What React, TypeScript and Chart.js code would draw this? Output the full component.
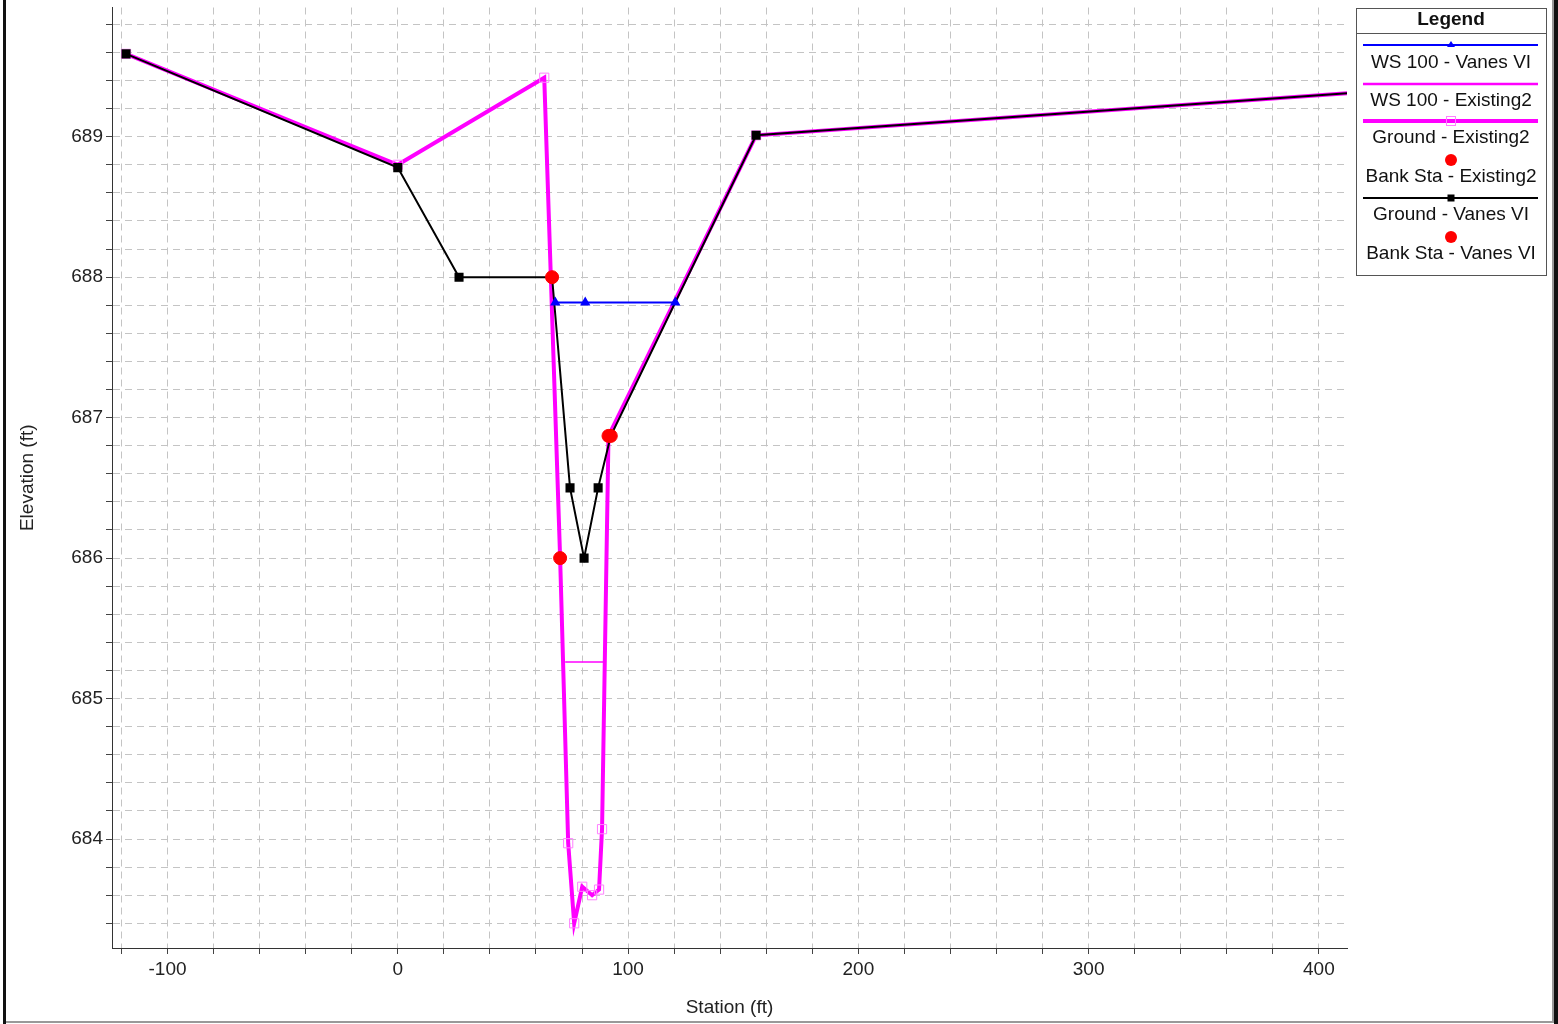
import React, { useEffect, useRef } from "react";
import { Chart, registerables } from "chart.js";

Chart.register(...registerables);

// Ground - Vanes VI
const groundVanesX = [-118, 0, 26.6, 67.0, 74.8, 80.9, 87.0, 92.5, 155.6, 415];
const groundVanesY = [689.59, 688.78, 688.0, 688.0, 686.5, 686.0, 686.5, 686.87, 689.01, 689.313];

// Ground - Existing2
const groundExistX = [-118, 0, 63.6, 70.5, 74.0, 76.6, 80.1, 84.4, 87.4, 88.7, 91.5, 155.6, 415];
const groundExistY = [689.59, 688.8, 689.42, 686.0, 683.97, 683.4, 683.66, 683.6, 683.64, 684.07, 686.87, 689.01, 689.313];

// WS 100 - Vanes VI
const wsVanesX = [68.4, 81.4, 120.5];
const wsVanesY = [687.82, 687.82, 687.82];

// WS 100 - Existing2
const wsExistX = [72.7, 89.2];
const wsExistY = [685.26, 685.26];

// Bank stations
const bankExistX = [70.5, 91.5];
const bankExistY = [686.0, 686.87];
const bankVanesX = [67.0, 92.5];
const bankVanesY = [688.0, 686.87];

const legendLabels = [
  "WS 100 - Vanes VI",
  "WS 100 - Existing2",
  "Ground - Existing2",
  "Bank Sta - Existing2",
  "Ground - Vanes VI",
  "Bank Sta - Vanes VI",
];

const xTitle = "Station (ft)";
const yTitle = "Elevation (ft)";

const pts = (xs: number[], ys: number[]) => xs.map((x, i) => ({ x, y: ys[i] }));

const FONT = "'Liberation Sans', Arial, sans-serif";
const FS = 19;

const legendPlugin = {
  id: "customLegend",
  afterDraw(chart: any) {
    const ctx = chart.ctx as CanvasRenderingContext2D;
    ctx.save();
    // outer frame
    ctx.fillStyle = "#111";
    ctx.fillRect(3, 0, 3, 1024);
    ctx.fillRect(1554, 0, 4, 1024);
    ctx.fillStyle = "#999";
    ctx.fillRect(6, 1021, 1548, 2);
    ctx.fillRect(1552, 0, 2, 1021);

    const L = 1356, T = 8, W = 190, H = 267;
    const cx = L + W / 2;
    ctx.fillStyle = "#fff";
    ctx.fillRect(L, T, W, H);
    ctx.strokeStyle = "#555";
    ctx.lineWidth = 1;
    ctx.strokeRect(L + 0.5, T + 0.5, W, H);
    ctx.beginPath();
    ctx.moveTo(L, 33.5);
    ctx.lineTo(L + W, 33.5);
    ctx.stroke();

    ctx.fillStyle = "#111";
    ctx.textAlign = "center";
    ctx.textBaseline = "middle";
    ctx.font = `bold ${FS}px ${FONT}`;
    ctx.fillText("Legend", cx, 20);

    ctx.font = `${FS}px ${FONT}`;
    const textY = [63, 101, 138, 177, 215, 254];
    legendLabels.forEach((t, i) => ctx.fillText(t, cx, textY[i]));

    const x0 = 1363, x1 = 1538;
    // WS Vanes
    ctx.strokeStyle = "#0000ff";
    ctx.lineWidth = 2;
    ctx.beginPath(); ctx.moveTo(x0, 45); ctx.lineTo(x1, 45); ctx.stroke();
    ctx.fillStyle = "#0000ff";
    ctx.beginPath(); ctx.moveTo(cx, 41); ctx.lineTo(cx + 4, 47); ctx.lineTo(cx - 4, 47); ctx.closePath(); ctx.fill();
    // WS Existing
    ctx.strokeStyle = "#ff00ff";
    ctx.lineWidth = 2.5;
    ctx.beginPath(); ctx.moveTo(x0, 84); ctx.lineTo(x1, 84); ctx.stroke();
    // Ground Existing
    ctx.lineWidth = 4;
    ctx.beginPath(); ctx.moveTo(x0, 121); ctx.lineTo(x1, 121); ctx.stroke();
    ctx.strokeStyle = "#ff80ff";
    ctx.lineWidth = 1;
    ctx.strokeRect(cx - 4.5, 116.5, 9, 9);
    // Bank Existing
    ctx.fillStyle = "#ff0000";
    ctx.beginPath(); ctx.arc(cx, 160, 6, 0, Math.PI * 2); ctx.fill();
    // Ground Vanes
    ctx.strokeStyle = "#000";
    ctx.lineWidth = 2;
    ctx.beginPath(); ctx.moveTo(x0, 198); ctx.lineTo(x1, 198); ctx.stroke();
    ctx.fillStyle = "#000";
    ctx.fillRect(cx - 3.5, 194.5, 7, 7);
    // Bank Vanes
    ctx.fillStyle = "#ff0000";
    ctx.beginPath(); ctx.arc(cx, 237, 6, 0, Math.PI * 2); ctx.fill();
    ctx.restore();
  },
};

export default function App() {
  const ref = useRef<HTMLCanvasElement | null>(null);
  useEffect(() => {
    if (!ref.current) return;
    const chart = new Chart(ref.current, {
      type: "line",
      data: {
        datasets: [
          {
            label: legendLabels[5],
            data: pts(bankVanesX, bankVanesY),
            showLine: false,
            pointStyle: "circle",
            pointRadius: 6.5,
            pointBackgroundColor: "#ff0000",
            pointBorderColor: "#ff0000",
            borderColor: "#ff0000",
          },
          {
            label: legendLabels[3],
            data: pts(bankExistX, bankExistY),
            showLine: false,
            pointStyle: "circle",
            pointRadius: 6.5,
            pointBackgroundColor: "#ff0000",
            pointBorderColor: "#ff0000",
            borderColor: "#ff0000",
          },
          {
            label: legendLabels[0],
            data: pts(wsVanesX, wsVanesY),
            borderColor: "#0000ff",
            borderWidth: 2,
            pointStyle: "triangle",
            pointRadius: 4,
            pointBackgroundColor: "#0000ff",
            pointBorderColor: "#0000ff",
          },
          {
            label: legendLabels[4],
            data: pts(groundVanesX, groundVanesY),
            borderColor: "#000000",
            borderWidth: 2,
            pointStyle: "rect",
            pointRadius: 5,
            pointBackgroundColor: "#000000",
            pointBorderColor: "#000000",
          },
          {
            label: legendLabels[1],
            data: pts(wsExistX, wsExistY),
            borderColor: "#ff00ff",
            borderWidth: 1.5,
            pointRadius: 0,
          },
          {
            label: legendLabels[2],
            data: pts(groundExistX, groundExistY),
            borderColor: "#ff00ff",
            borderWidth: 4,
            pointStyle: "rect",
            pointRadius: 6.5,
            pointBorderWidth: 1,
            pointBackgroundColor: "rgba(0,0,0,0)",
            pointBorderColor: "#ff80ff",
          },
        ],
      },
      options: {
        animation: false,
        responsive: false,
        maintainAspectRatio: false,
        layout: { padding: { left: 0, top: 7, right: 1558 - 1347, bottom: 0 } },
        plugins: { legend: { display: false }, tooltip: { enabled: false } },
        elements: { line: { tension: 0 } },
        scales: {
          x: {
            type: "linear",
            min: -124.1,
            max: 412.2,
            border: { display: true, color: "#333", width: 1, dash: [7, 5] },
            grid: { color: "#c4c4c4", tickColor: "#444", tickLength: 6, lineWidth: 1 },
            ticks: {
              stepSize: 20,
              includeBounds: false,
              autoSkip: false,
              maxRotation: 0,
              padding: 4,
              color: "#222",
              font: { size: FS, family: FONT },
              callback: (v: any) => (Math.abs(v % 100) < 1e-6 ? String(Math.round(v)) : ""),
            },
            title: {
              display: true,
              text: xTitle,
              color: "#222",
              font: { size: FS, family: FONT },
              padding: { top: 5, bottom: 5 },
            },
            afterFit: (s: any) => {
              s.height = 1024 - 948;
              s.paddingLeft = 0;
              s.paddingRight = 0;
            },
          },
          y: {
            type: "linear",
            min: 683.224,
            max: 689.92,
            border: { display: true, color: "#333", width: 1, dash: [7, 5] },
            grid: { color: "#c4c4c4", tickColor: "#444", tickLength: 6, lineWidth: 1 },
            ticks: {
              stepSize: 0.2,
              includeBounds: false,
              autoSkip: false,
              padding: 3,
              color: "#222",
              font: { size: FS, family: FONT },
              callback: (v: any) => (Math.abs(v - Math.round(v)) < 1e-6 ? String(Math.round(v)) : ""),
            },
            title: {
              display: true,
              text: yTitle,
              color: "#222",
              font: { size: FS, family: FONT },
              padding: { top: 16.5, bottom: 16.5 },
            },
            afterFit: (s: any) => {
              s.width = 112;
              s.paddingTop = 0;
              s.paddingBottom = 0;
            },
          },
        },
      },
      plugins: [legendPlugin],
    });
    return () => chart.destroy();
  }, []);
  return (
    <div style={{ position: "absolute", left: 0, top: 0, width: 1558, height: 1024, background: "#fff" }}>
      <canvas ref={ref} width={1558} height={1024} style={{ display: "block" }} />
    </div>
  );
}
